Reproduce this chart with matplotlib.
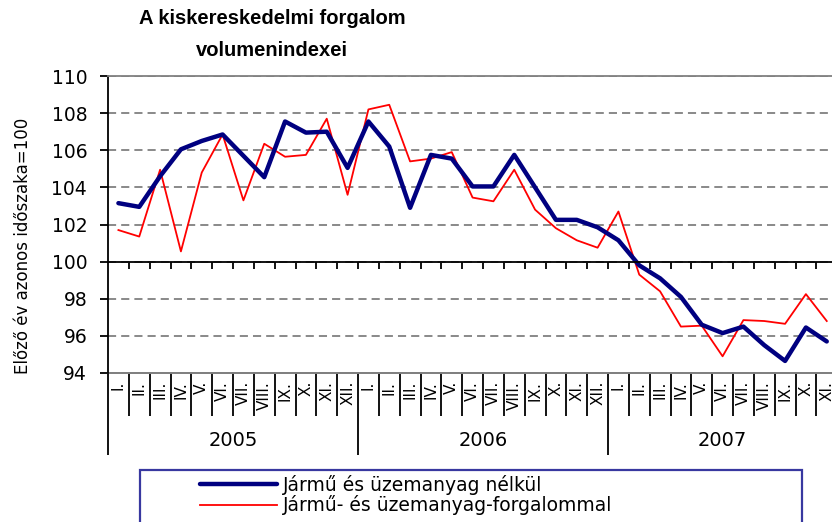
import numpy as np
import matplotlib
matplotlib.use("Agg")
import matplotlib.pyplot as plt
from matplotlib.patches import Rectangle
from matplotlib.ticker import FixedLocator, NullFormatter
import matplotlib.transforms as mtransforms

# ---------------- data ----------------
years = ["2005", "2006", "2007"]
months_per_year = [12, 12, 11]
month_labels = ["I.", "II.", "III.", "IV.", "V.", "VI.", "VII.", "VIII.", "IX.", "X.", "XI.", "XII."]

series_blue_name = "Jármű és üzemanyag nélkül"
series_red_name = "Jármű- és üzemanyag-forgalommal"

blue_values = [103.15, 102.95, 104.6, 106.05, 106.5, 106.85, 105.7, 104.55, 107.55, 106.95, 107.0, 105.05,
               107.55, 106.2, 102.9, 105.75, 105.55, 104.05, 104.05, 105.75, 104.0, 102.25, 102.25, 101.85,
               101.15, 99.8, 99.1, 98.1, 96.6, 96.15, 96.5, 95.5, 94.65, 96.45, 95.7]
red_values = [101.7, 101.35, 104.95, 100.55, 104.8, 106.85, 103.3, 106.35, 105.65, 105.75, 107.7, 103.6,
              108.2, 108.45, 105.4, 105.55, 105.9, 103.45, 103.25, 104.95, 102.8, 101.8, 101.15, 100.75,
              102.7, 99.3, 98.4, 96.5, 96.55, 94.9, 96.85, 96.8, 96.65, 98.25, 96.8]

y_ticks = [94, 96, 98, 100, 102, 104, 106, 108, 110]

title_line1 = "A kiskereskedelmi forgalom"
title_line2 = "volumenindexei"
y_label = "Előző év azonos időszaka=100"

# ---------------- figure ----------------
W, H = 832, 522
fig = plt.figure(figsize=(W / 100, H / 100), dpi=100)
fig.patch.set_facecolor("white")

n = len(blue_values)
x = np.arange(n)
month_w = 250 / 12.0
ax_left, ax_top, ax_bottom = 108, 76, 373
ax_w = month_w * n
ax = fig.add_axes([ax_left / W, 1 - ax_bottom / H, ax_w / W, (ax_bottom - ax_top) / H])
ax.set_xlim(-0.5, n - 0.5)
ax.set_ylim(y_ticks[0], y_ticks[-1])

grey = "#808080"
ax.set_yticks(y_ticks)
ax.yaxis.grid(True, color=grey, lw=1.3, dashes=(4.5, 2.8))
ax.set_axisbelow(True)

ax.plot(x, red_values, color="#ff0000", lw=1.3, zorder=3, label=series_red_name)
ax.plot(x, blue_values, color="#000080", lw=3.2, zorder=4, solid_joinstyle="round",
        solid_capstyle="round", label=series_blue_name)

# spines
ax.spines["right"].set_visible(False)
ax.spines["top"].set_color(grey)
ax.spines["top"].set_linewidth(1.3)
ax.spines["left"].set_color("black")
ax.spines["left"].set_linewidth(1.3)
ax.spines["bottom"].set_position(("data", 100))
ax.spines["bottom"].set_color("black")
ax.spines["bottom"].set_linewidth(1.3)
ax.spines["bottom"].set_zorder(5)
ax.axhline(y_ticks[0], color=grey, lw=1.3, clip_on=False, zorder=2)

boundaries = np.arange(-0.5, n, 1.0)
ax.set_xticks(boundaries[1:])
ax.set_xticklabels([])
ax.tick_params(axis="x", direction="out", length=5, width=1.3, color="black")
ax.tick_params(axis="y", direction="out", length=6, width=1.3, color="black",
               labelsize=13.5, pad=9)

# category band axis at bottom
sec = ax.secondary_xaxis(0.0)
sec.spines["bottom"].set_color(grey)
sec.spines["bottom"].set_linewidth(1.3)
year_bounds = np.concatenate([[-0.5], np.cumsum(months_per_year) - 0.5])
sec.xaxis.set_major_locator(FixedLocator(list(year_bounds)))
minor_b = [b for b in boundaries if b not in set(year_bounds)] + [n - 0.5]
sec.xaxis.set_minor_locator(FixedLocator(minor_b))
sec.xaxis.set_major_formatter(NullFormatter())
sec.xaxis.set_minor_formatter(NullFormatter())
sec.tick_params(axis="x", which="major", direction="out", length=59, width=1.3, color="black")
sec.tick_params(axis="x", which="minor", direction="out", length=31, width=1.3, color="black")

trans = mtransforms.blended_transform_factory(ax.transData, ax.transAxes)
band_h = ax_bottom - ax_top
idx = 0
for yr, cnt in zip(years, months_per_year):
    for m in range(cnt):
        ax.text(idx + m, -(381 - ax_bottom) / band_h, month_labels[m], transform=trans,
                rotation=90, ha="center", va="top", fontsize=11)
    center = np.mean(np.arange(idx, idx + cnt))
    ax.text(center, -(441 - ax_bottom) / band_h, yr, transform=trans,
            ha="center", va="center", fontsize=14)
    idx += cnt

# title
fig.text(272 / W, 1 - 18 / H, title_line1, ha="center", va="center",
         fontsize=14.5, fontweight="bold", family="Liberation Sans")
fig.text(272 / W, 1 - 50 / H, title_line2, ha="center", va="center",
         fontsize=14.5, fontweight="bold", family="Liberation Sans")

# y label
fig.text(23 / W, 1 - 246 / H, y_label, rotation=90, ha="center", va="center", fontsize=12)

# legend frame + legend
fig.patches.append(Rectangle((140 / W, -0.05), (802 - 140) / W, 1 - 470 / H + 0.05,
                             transform=fig.transFigure, facecolor="white",
                             edgecolor="#3838a0", lw=1.6, zorder=1))
handles, labels = ax.get_legend_handles_labels()
leg = fig.legend(handles[::-1], labels[::-1], loc="upper left",
                 bbox_to_anchor=(200 / W, 1 - 475 / H), bbox_transform=fig.transFigure,
                 frameon=False, fontsize=13.5, handlelength=4.1, handletextpad=0.3,
                 borderpad=0, borderaxespad=0, labelspacing=0.02)
leg.set_zorder(3)

fig.savefig("out.png", dpi=100, facecolor="white")
